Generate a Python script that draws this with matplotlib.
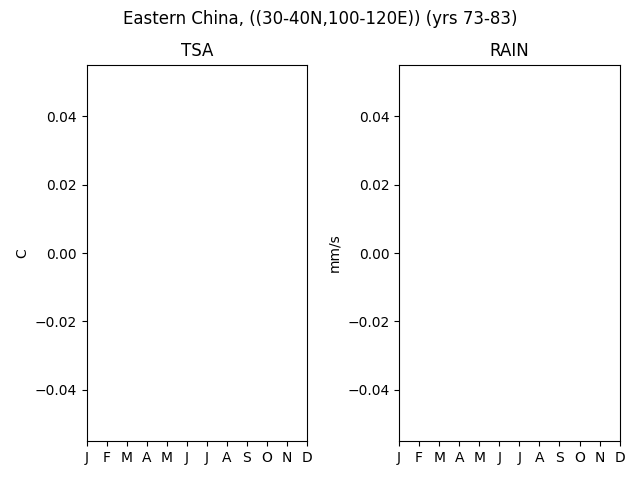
import numpy as np
import matplotlib
matplotlib.use('Agg')
import matplotlib.pyplot as plt

months = ['J', 'F', 'M', 'A', 'M', 'J', 'J', 'A', 'S', 'O', 'N', 'D']
# no valid data in the reference: both series are empty
tsa = [np.nan] * 12
rain = [np.nan] * 12

fig, axes = plt.subplots(1, 2, figsize=(6.4, 4.8))
fig.suptitle('Eastern China, ((30-40N,100-120E)) (yrs 73-83)')

for ax, vals, name, unit in zip(axes, [tsa, rain], ['TSA', 'RAIN'], ['C', 'mm/s']):
    x = np.arange(len(months))
    ax.plot(x, vals)
    ax.set_title(name)
    ax.set_ylabel(unit)
    ax.set_xticks(x)
    ax.set_xticklabels(months)
    ax.set_xlim(x[0], x[-1])
    ax.set_ylim(-0.055, 0.055)

plt.tight_layout()
fig.subplots_adjust(top=0.865)
plt.savefig('out.png', dpi=100)
